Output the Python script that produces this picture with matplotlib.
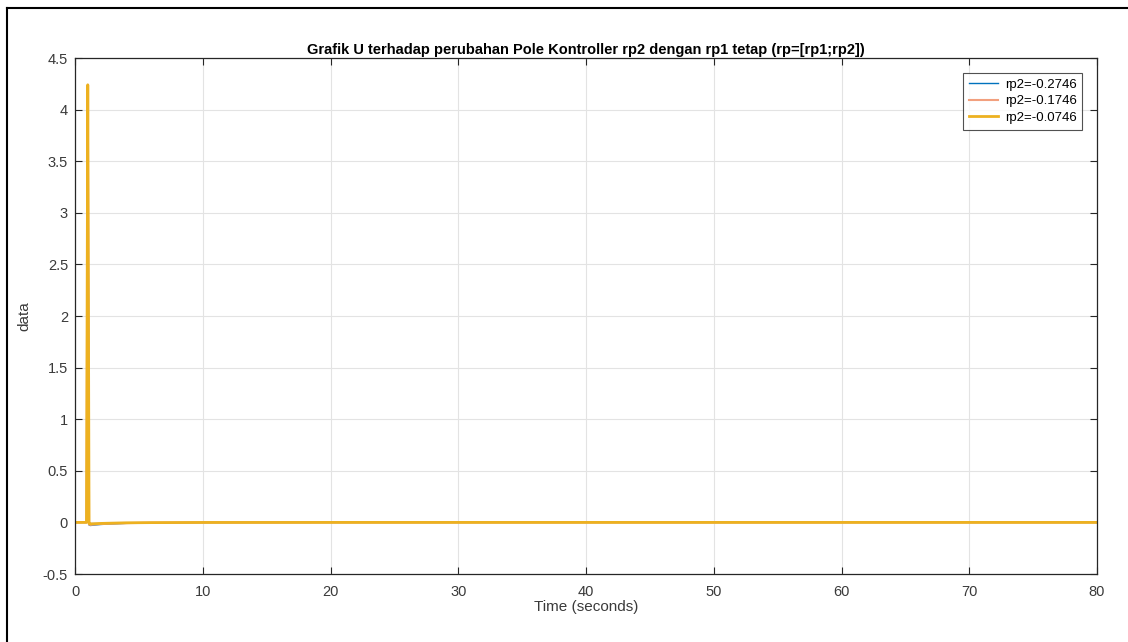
import matplotlib
matplotlib.use("Agg")
import matplotlib.pyplot as plt
from matplotlib.lines import Line2D

plt.rcParams['font.family'] = ['Liberation Sans', 'DejaVu Sans']

# Control signal U for three values of the second controller pole
time = [0, 0.9, 1.0, 1.1, 1.2, 1.5, 2, 3, 4, 6, 10, 20, 80]
u_rp2_a = [0, 0, 4.24, -0.025, -0.03, -0.026, -0.02, -0.014, -0.009, -0.004, -0.001, 0, 0]
u_rp2_b = [0, 0, 4.24, -0.02, -0.024, -0.02, -0.016, -0.011, -0.007, -0.003, -0.001, 0, 0]
u_rp2_c = [0, 0, 4.24, -0.012, -0.015, -0.013, -0.01, -0.007, -0.004, -0.002, -0.0005, 0, 0]
labels = ['rp2=-0.2746', 'rp2=-0.1746', 'rp2=-0.0746']
colors = ['#0072BD', '#F2A07E', '#EDB120']
widths = [1.0, 1.5, 2.0]

x_ticks = [0, 10, 20, 30, 40, 50, 60, 70, 80]
y_ticks = [-0.5, 0, 0.5, 1, 1.5, 2, 2.5, 3, 3.5, 4, 4.5]
y_tick_labels = ['-0.5', '0', '0.5', '1', '1.5', '2', '2.5', '3', '3.5', '4', '4.5']

fig = plt.figure(figsize=(11.28, 6.42), dpi=100)
ax = fig.add_axes([75 / 1128, 1 - 574 / 642, (1097 - 75) / 1128, (574 - 58) / 642])

for y, lab, c, w in zip([u_rp2_a, u_rp2_b, u_rp2_c], labels, colors, widths):
    ax.plot(time, y, color=c, lw=w, label=lab)

ax.set_xlim(0, 80)
ax.set_ylim(-0.5, 4.5)
ax.set_xticks(x_ticks)
ax.set_yticks(y_ticks)
ax.set_yticklabels(y_tick_labels)
ax.grid(True, color='#e3e3e3', lw=0.8)
ax.set_axisbelow(True)
ax.tick_params(direction='in', top=True, right=True, length=5, width=0.8,
               labelsize=10.5, colors='#262626', labelcolor='#3a3a3a')
ax.tick_params(axis='x', pad=8)
ax.tick_params(axis='y', pad=5)
for s in ax.spines.values():
    s.set_color('#262626')
    s.set_linewidth(0.9)

ax.set_xlabel('Time (seconds)', fontsize=11, color='#3a3a3a', labelpad=1)
ax.set_ylabel('data', fontsize=11, color='#3a3a3a', labelpad=8)
ax.set_title('Grafik U terhadap perubahan Pole Kontroller rp2 dengan rp1 tetap (rp=[rp1;rp2])',
             fontsize=10.5, fontweight='bold', color='black', pad=3)

leg = ax.legend(loc='upper right', fontsize=9.5, frameon=True, fancybox=False,
                edgecolor='#262626', handlelength=2.2, handletextpad=0.5,
                borderpad=0.45, labelspacing=0.32, borderaxespad=1.1)
leg.get_frame().set_linewidth(0.8)

# frame lines along the top and left of the figure
fig.add_artist(Line2D([7 / 1128, 7 / 1128], [0, 1 - 8 / 642], color='black', lw=1.5))
fig.add_artist(Line2D([7 / 1128, 1], [1 - 8 / 642, 1 - 8 / 642], color='black', lw=1.5))

fig.savefig('out.png', dpi=100)
